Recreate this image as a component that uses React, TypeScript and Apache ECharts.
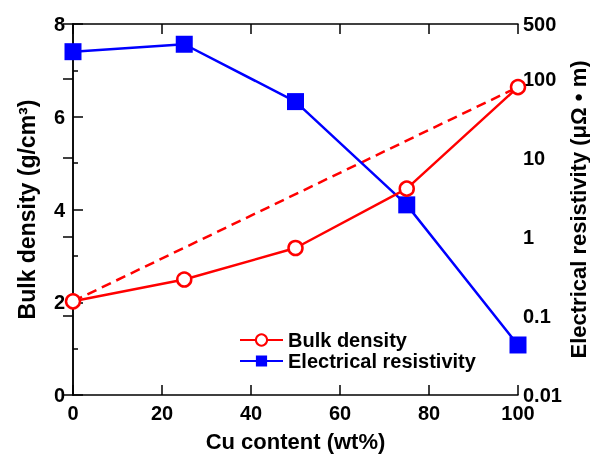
import React, { useEffect, useRef } from "react";
import * as echarts from "echarts";

const cuContent = [0, 25, 50, 75, 100];
const bulkDensity = [2.02, 2.49, 3.17, 4.45, 6.64];
const resistivity = [223, 277, 52, 2.56, 0.043];
const dashedX = [0, 100];
const dashedY = [2.02, 6.64];
const rightTicks = [0.01, 0.1, 1, 10, 100, 500];

const FONT = "'Liberation Sans', Arial, sans-serif";

export default function App() {
  const ref = useRef<HTMLDivElement>(null);
  useEffect(() => {
    const chart = echarts.init(ref.current!, null, { renderer: "svg" });
    const labelStyle = { color: "#000", fontFamily: FONT, fontWeight: "bold" as const, fontSize: 20 };
    const titleStyle = { ...labelStyle, fontSize: 23 };
    const lineStyle = { color: "#000", width: 1.5 };
    chart.setOption({
      animation: false,
      grid: { left: 73, right: 72, top: 24, bottom: 60, outerBoundsMode: "none", containLabel: false },
      legend: {
        data: ["Bulk density", "Electrical resistivity"],
        orient: "vertical",
        left: 239,
        top: 330,
        padding: 0,
        itemWidth: 43,
        itemHeight: 14,
        itemGap: 1,
        textStyle: { ...labelStyle, fontSize: 20, lineHeight: 20 },
      },
      xAxis: [
        {
          type: "value",
          min: 0,
          max: 100,
          interval: 20,
          position: "bottom",
          name: "Cu content (wt%)",
          nameLocation: "middle",
          nameGap: 35,
          nameTextStyle: { ...labelStyle, fontSize: 22 },
          axisLine: { lineStyle },
          axisTick: { inside: true, length: 10, lineStyle },
          axisLabel: { ...labelStyle, margin: 8 },
          splitLine: { show: false },
        },
        {
          type: "value",
          min: 0,
          max: 100,
          interval: 20,
          position: "top",
          axisLine: { lineStyle },
          axisTick: { inside: true, length: 10, lineStyle },
          axisLabel: { show: false },
          splitLine: { show: false },
        },
      ],
      yAxis: [
        {
          type: "value",
          min: 0,
          max: 8,
          interval: 2,
          position: "left",
          name: "Bulk density (g/cm³)",
          nameLocation: "middle",
          nameGap: 35,
          nameTextStyle: titleStyle,
          axisLine: { lineStyle },
          axisTick: { inside: true, length: 10, lineStyle },
          minorTick: { show: true, splitNumber: 2, length: 5, lineStyle },
          axisLabel: { ...labelStyle, margin: 8 },
          splitLine: { show: false },
          minorSplitLine: { show: false },
        },
        {
          type: "log",
          logBase: 10,
          min: 0.01,
          max: 500,
          position: "right",
          name: "Electrical resistivity (μΩ • m)",
          nameLocation: "middle",
          nameGap: 49,
          nameMoveOverlap: false,
          nameTextStyle: { ...labelStyle, fontSize: 22 },
          axisLine: { lineStyle },
          axisTick: { inside: true, length: 10, lineStyle },
          axisLabel: {
            ...labelStyle,
            margin: 5,
            formatter: (v: number) => {
              const m = rightTicks.find((t) => Math.abs(Math.log10(t) - Math.log10(v)) < 1e-6);
              return m !== undefined ? String(m) : "";
            },
          },
          splitLine: { show: false },
        },
      ],
      series: [
        {
          name: "Bulk density dashed",
          type: "line",
          xAxisIndex: 0,
          yAxisIndex: 0,
          data: dashedX.map((x, i) => [x, dashedY[i]]),
          symbol: "none",
          lineStyle: { color: "#ff0000", width: 2.5, type: [10, 6] },
          z: 1,
        },
        {
          name: "Bulk density",
          type: "line",
          xAxisIndex: 0,
          yAxisIndex: 0,
          data: cuContent.map((x, i) => [x, bulkDensity[i]]),
          symbol: "circle",
          symbolSize: 14,
          lineStyle: { color: "#ff0000", width: 2.5 },
          itemStyle: { color: "#ffffff", borderColor: "#ff0000", borderWidth: 2.5 },
          z: 3,
        },
        {
          name: "Electrical resistivity",
          type: "line",
          xAxisIndex: 0,
          yAxisIndex: 1,
          data: cuContent.map((x, i) => [x, resistivity[i]]),
          symbol: "rect",
          symbolSize: 17,
          lineStyle: { color: "#0000ff", width: 2.5 },
          itemStyle: { color: "#0000ff" },
          z: 2,
        },
      ],
    });
    return () => chart.dispose();
  }, []);
  return <div ref={ref} style={{ width: 590, height: 455, position: "fixed", left: 0, top: 0 }} />;
}
